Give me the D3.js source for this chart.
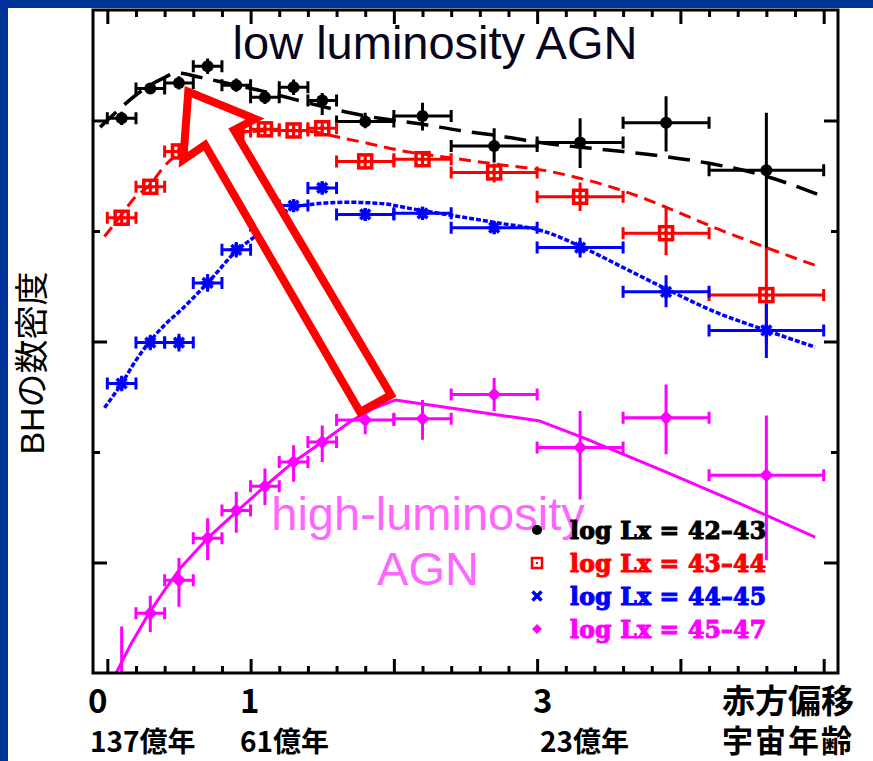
<!DOCTYPE html>
<html>
<head>
<meta charset="utf-8">
<script src="https://cdn.jsdelivr.net/npm/d3@7"></script>
<style>
  html, body { margin: 0; padding: 0; background: #fff; }
  svg { display: block; }
</style>
</head>
<body>
<svg id="chart" width="873" height="761"></svg>
<script>
// ---------- redshift bins ----------
const zMid = [0.1, 0.3, 0.5, 0.7, 0.9, 1.1, 1.3, 1.5, 1.8, 2.2, 2.7, 3.3, 3.9, 4.6];
const zLo  = [0.0, 0.2, 0.4, 0.6, 0.8, 1.0, 1.2, 1.4, 1.6, 2.0, 2.4, 3.0, 3.6, 4.2];
const zHi  = [0.2, 0.4, 0.6, 0.8, 1.0, 1.2, 1.4, 1.6, 2.0, 2.4, 3.0, 3.6, 4.2, 5.0];

// ---------- log10 space density (with asymmetric errors) ----------
const dens4243   = [-2.98, -2.71, -2.66, -2.51, -2.68, -2.79, -2.70, -2.82, -3.01, -2.96, -3.23, -3.20, -3.02, -3.45];
const dens4243Up = [0.06, 0.05, 0.06, 0.07, 0.06, 0.06, 0.07, 0.07, 0.08, 0.12, 0.16, 0.22, 0.24, 0.52];
const dens4243Dn = [0.06, 0.05, 0.06, 0.07, 0.06, 0.06, 0.07, 0.13, 0.06, 0.13, 0.15, 0.23, 0.26, 0.72];

const dens4344   = [-3.88, -3.60, -3.28, -3.16, -3.10, -3.08, -3.09, -3.07, -3.37, -3.35, -3.47, -3.69, -4.02, -4.58];
const dens4344Up = [0.06, 0.07, 0.07, 0.06, 0.05, 0.05, 0.05, 0.05, 0.06, 0.06, 0.08, 0.13, 0.23, 0.43];
const dens4344Dn = [0.06, 0.07, 0.07, 0.06, 0.05, 0.05, 0.05, 0.05, 0.06, 0.06, 0.09, 0.13, 0.20, 0.45];

const dens4445   = [-5.38, -5.01, -5.01, -4.47, -4.17, -3.95, -3.77, -3.61, -3.85, -3.84, -3.97, -4.15, -4.55, -4.90];
const dens4445Up = [0.07, 0.07, 0.08, 0.08, 0.07, 0.06, 0.06, 0.06, 0.05, 0.06, 0.05, 0.09, 0.15, 0.24];
const dens4445Dn = [0.07, 0.07, 0.08, 0.08, 0.07, 0.06, 0.06, 0.06, 0.05, 0.06, 0.05, 0.09, 0.14, 0.25];

const dens4547   = [-8.10, -7.46, -7.16, -6.78, -6.53, -6.31, -6.09, -5.91, -5.71, -5.70, -5.48, -5.96, -5.69, -6.21];
const dens4547Up = [0.52, 0.16, 0.20, 0.18, 0.17, 0.16, 0.15, 0.15, 0.09, 0.17, 0.15, 0.33, 0.30, 0.54];
const dens4547Dn = [0.20, 0.17, 0.24, 0.20, 0.20, 0.17, 0.18, 0.18, 0.13, 0.19, 0.15, 0.47, 0.33, 0.77];

// ---------- model curves ----------
const model4243Z = [-0.05, 0.09, 0.23, 0.37, 0.49, 0.65, 0.86, 1.07, 1.28, 1.49, 1.69, 1.90, 2.18, 2.46, 2.74, 3.02, 3.44, 3.86, 4.21, 4.56, 4.96];
const model4243V = [-3.06, -2.89, -2.74, -2.63, -2.57, -2.61, -2.67, -2.73, -2.80, -2.87, -2.93, -2.98, -3.03, -3.09, -3.14, -3.20, -3.26, -3.32, -3.39, -3.49, -3.67];

const model4344Z = [-0.02, 0.09, 0.19, 0.30, 0.40, 0.51, 0.65, 0.82, 1.00, 1.21, 1.42, 1.61, 1.83, 2.04, 2.41, 2.74, 3.04, 3.35, 3.63, 3.91, 4.22, 4.60, 4.96];
const model4344V = [-4.05, -3.87, -3.70, -3.58, -3.41, -3.29, -3.20, -3.13, -3.10, -3.09, -3.10, -3.15, -3.21, -3.27, -3.34, -3.40, -3.45, -3.54, -3.65, -3.79, -3.96, -4.15, -4.32];

const model4445Z = [-0.02, 0.02, 0.10, 0.19, 0.29, 0.40, 0.51, 0.70, 0.91, 1.03, 1.17, 1.29, 1.42, 1.67, 1.90, 2.13, 2.41, 2.74, 3.04, 3.32, 3.63, 3.91, 4.22, 4.60, 4.94];
const model4445V = [-5.60, -5.53, -5.38, -5.19, -5.01, -4.85, -4.72, -4.47, -4.17, -4.05, -3.90, -3.79, -3.76, -3.74, -3.75, -3.80, -3.86, -3.93, -4.00, -4.15, -4.35, -4.53, -4.72, -4.90, -5.05];

const model4547Z = [0.03, 0.16, 0.29, 0.40, 0.51, 0.70, 0.91, 1.10, 1.30, 1.51, 1.69, 1.85, 2.01, 2.60, 3.02, 3.32, 3.86, 4.42, 4.94];
const model4547V = [-8.08, -7.75, -7.46, -7.25, -7.05, -6.78, -6.53, -6.31, -6.09, -5.90, -5.73, -5.61, -5.53, -5.64, -5.72, -5.87, -6.16, -6.47, -6.77];

// ---------- legend / axis text ----------
const legendLabels = ["log Lx = 42\u201343", "log Lx = 43\u201344", "log Lx = 44\u201345", "log Lx = 45\u201347"];
const redshiftLabels = ["0", "1", "3", "赤方偏移"];
const ageLabels = ["137億年", "61億年", "23億年", "宇宙年齢"];
const yTitle = "BHの数密度";

// outline of the annotation arrow in (z, log density)
const arrowZ = [0.565, 1.031, 0.884, 1.980, 1.764, 0.682, 0.530];
const arrowV = [-2.740, -2.986, -3.086, -5.484, -5.638, -3.222, -3.355];

// ---------- layout ----------
const W = 873, H = 761;
const frame = { left: 93, top: 10, right: 838, bottom: 673 };
const BLUE_EDGE = "#003399";

const svg = d3.select("#chart");
const x = d3.scaleLinear().domain([-0.1, 5.1]).range([frame.left, frame.right]);
const y = d3.scaleLinear().domain([-8, -2]).range([frame.bottom, frame.top]);

svg.append("rect").attr("width", W).attr("height", H).attr("fill", "#fff");
svg.append("rect").attr("x", 0).attr("y", 0).attr("width", W).attr("height", 8).attr("fill", BLUE_EDGE);
svg.append("rect").attr("x", 0).attr("y", 0).attr("width", 8).attr("height", H).attr("fill", BLUE_EDGE);

svg.append("clipPath").attr("id", "plotClip")
  .append("rect")
  .attr("x", frame.left).attr("y", frame.top)
  .attr("width", frame.right - frame.left).attr("height", frame.bottom - frame.top);

// ---------- series ----------
const series = [
  { vals: dens4243, up: dens4243Up, dn: dens4243Dn, color: "#000000", marker: "circle",
    mz: model4243Z, mv: model4243V, dash: "22,11", width: 3.5, curve: d3.curveMonotoneX },
  { vals: dens4344, up: dens4344Up, dn: dens4344Dn, color: "#ff0000", marker: "square",
    mz: model4344Z, mv: model4344V, dash: "12,7", width: 3, curve: d3.curveMonotoneX },
  { vals: dens4445, up: dens4445Up, dn: dens4445Dn, color: "#0000ff", marker: "star",
    mz: model4445Z, mv: model4445V, dash: "5,2", width: 3.5, curve: d3.curveMonotoneX },
  { vals: dens4547, up: dens4547Up, dn: dens4547Dn, color: "#ff00ff", marker: "diamond",
    mz: model4547Z, mv: model4547V, dash: null, width: 3, curve: d3.curveLinear }
];

const plot = svg.append("g").attr("clip-path", "url(#plotClip)");

// model curves
series.forEach(s => {
  const line = d3.line().x(d => x(d[0])).y(d => y(d[1])).curve(s.curve);
  const pts = s.mz.map((z, i) => [z, s.mv[i]]);
  plot.append("path")
    .attr("d", line(pts))
    .attr("fill", "none")
    .attr("stroke", s.color)
    .attr("stroke-width", s.width)
    .attr("stroke-linejoin", "round")
    .attr("stroke-dasharray", s.dash);
});

function drawMarker(g, type, cx, cy, color, size) {
  const r = size;
  if (type === "circle") {
    g.append("circle").attr("cx", cx).attr("cy", cy).attr("r", r).attr("fill", color);
  } else if (type === "square") {
    g.append("rect").attr("x", cx - r).attr("y", cy - r).attr("width", 2 * r).attr("height", 2 * r)
      .attr("fill", "none").attr("stroke", color).attr("stroke-width", 3.5);
    g.append("rect").attr("x", cx - 2).attr("y", cy - 2).attr("width", 4).attr("height", 4).attr("fill", color);
  } else if (type === "star") {
    const p = d3.path();
    p.moveTo(cx - r, cy); p.lineTo(cx + r, cy);
    p.moveTo(cx, cy - r); p.lineTo(cx, cy + r);
    const d = r * 0.75;
    p.moveTo(cx - d, cy - d); p.lineTo(cx + d, cy + d);
    p.moveTo(cx - d, cy + d); p.lineTo(cx + d, cy - d);
    g.append("path").attr("d", p.toString()).attr("stroke", color).attr("stroke-width", 3.5).attr("fill", "none");
  } else if (type === "cross") {
    const p = d3.path();
    p.moveTo(cx - r, cy - r); p.lineTo(cx + r, cy + r);
    p.moveTo(cx - r, cy + r); p.lineTo(cx + r, cy - r);
    g.append("path").attr("d", p.toString()).attr("stroke", color).attr("stroke-width", 3.5).attr("fill", "none");
  } else if (type === "diamond") {
    g.append("path")
      .attr("d", `M${cx},${cy - r}L${cx + r},${cy}L${cx},${cy + r}L${cx - r},${cy}Z`)
      .attr("fill", color);
  }
}

// error bars + markers
const CAP = 6;
series.forEach(s => {
  const g = plot.append("g");
  s.vals.forEach((v, i) => {
    const cy = y(v), cx = x(zMid[i]);
    const x0 = x(zLo[i]), x1 = x(zHi[i]);
    const p = d3.path();
    p.moveTo(x0, cy); p.lineTo(x1, cy);
    p.moveTo(x0, cy - CAP); p.lineTo(x0, cy + CAP);
    p.moveTo(x1, cy - CAP); p.lineTo(x1, cy + CAP);
    p.moveTo(cx, y(v + s.up[i])); p.lineTo(cx, y(v - s.dn[i]));
    g.append("path").attr("d", p.toString()).attr("stroke", s.color).attr("stroke-width", 3).attr("fill", "none");
    const size = s.marker === "circle" ? 6 : (s.marker === "diamond" ? 7 : 6.5);
    drawMarker(g, s.marker, cx, cy, s.color, size);
  });
});

// annotation arrow
const arrowPts = arrowZ.map((z, i) => [x(z), y(arrowV[i])]);
svg.append("path")
  .attr("d", "M" + arrowPts.map(p => p.join(",")).join("L") + "Z")
  .attr("fill", "#fff")
  .attr("stroke", "#ff0000")
  .attr("stroke-width", 8)
  .attr("stroke-linejoin", "miter")
  .attr("stroke-miterlimit", 10);

// ---------- frame and ticks ----------
svg.append("rect")
  .attr("x", frame.left).attr("y", frame.top)
  .attr("width", frame.right - frame.left).attr("height", frame.bottom - frame.top)
  .attr("fill", "none").attr("stroke", "#000").attr("stroke-width", 3);

const zMajor = d3.range(0, 5.001, 1);
const zMinor = d3.range(0, 5.001, 0.2).filter(v => Math.abs(v - Math.round(v)) > 1e-6);
const vMajor = [-3, -5, -7];
const vMinor = [-4, -6];

function ticks(axisFn, scale, values, len, tx, ty) {
  svg.append("g")
    .attr("transform", `translate(${tx},${ty})`)
    .call(axisFn(scale).tickValues(values).tickSize(-len).tickFormat(""))
    .call(g => {
      g.select(".domain").remove();
      g.selectAll("line").attr("stroke", "#000").attr("stroke-width", 3);
    });
}
ticks(d3.axisBottom, x, zMajor, 14, 0, frame.bottom);
ticks(d3.axisBottom, x, zMinor, 7, 0, frame.bottom);
ticks(d3.axisTop, x, zMajor, 14, 0, frame.top);
ticks(d3.axisTop, x, zMinor, 7, 0, frame.top);
ticks(d3.axisLeft, y, vMajor, 14, frame.left, 0);
ticks(d3.axisLeft, y, vMinor, 7, frame.left, 0);
ticks(d3.axisRight, y, vMajor, 14, frame.right, 0);
ticks(d3.axisRight, y, vMinor, 7, frame.right, 0);

// ---------- annotations ----------
svg.append("text")
  .attr("x", 435).attr("y", 59)
  .attr("text-anchor", "middle")
  .attr("font-family", "Liberation Sans, Arial, sans-serif")
  .attr("font-size", 47)
  .attr("fill", "#06061e")
  .text("low luminosity AGN");

const hl = svg.append("text")
  .attr("text-anchor", "middle")
  .attr("font-family", "Liberation Sans, Arial, sans-serif")
  .attr("font-size", 47)
  .attr("fill", "#ff66ff");
hl.append("tspan").attr("x", 428).attr("y", 530).text("high-luminosity");
hl.append("tspan").attr("x", 428).attr("y", 585).text("AGN");

// ---------- legend ----------
const legendColors = series.map(s => s.color);
const legendMarkers = ["circle", "square", "cross", "diamond"];
const legendRowY = [530, 563, 596, 629];
legendLabels.forEach((lab, i) => {
  const g = svg.append("g");
  const cy = legendRowY[i];
  if (legendMarkers[i] === "square") {
    g.append("rect").attr("x", 537 - 5).attr("y", cy - 5).attr("width", 10).attr("height", 10)
      .attr("fill", "none").attr("stroke", legendColors[i]).attr("stroke-width", 2.5);
    g.append("rect").attr("x", 536).attr("y", cy - 1).attr("width", 2).attr("height", 2).attr("fill", legendColors[i]);
  } else {
    drawMarker(g, legendMarkers[i], 537, cy, legendColors[i], legendMarkers[i] === "cross" ? 4.5 : 5);
  }
  g.append("text")
    .attr("x", 570).attr("y", cy + 9)
    .attr("font-family", "DejaVu Serif, serif")
    .attr("font-weight", "bold")
    .attr("font-size", 23.5)
    .attr("fill", legendColors[i])
    .attr("stroke", legendColors[i])
    .attr("stroke-width", 1.1)
    .attr("textLength", 196)
    .text(lab);
});

// ---------- axis captions ----------
const labelStartX = [88, 240, 533, 722];
const ageStartX = [90, 240, 540, 722];
redshiftLabels.forEach((t, i) => {
  svg.append("text")
    .attr("x", labelStartX[i]).attr("y", 713)
    .attr("font-family", "Noto Sans CJK JP, sans-serif")
    .attr("font-weight", "bold")
    .attr("font-size", 33)
    .attr("fill", "#000")
    .text(t);
});
ageLabels.forEach((t, i) => {
  svg.append("text")
    .attr("x", ageStartX[i]).attr("y", 752)
    .attr("font-family", "Noto Sans CJK JP, sans-serif")
    .attr("font-weight", "bold")
    .attr("font-size", i === 3 ? 31 : 28)
    .attr("letter-spacing", i === 3 ? 2 : 0)
    .attr("fill", "#000")
    .text(t);
});

svg.append("text")
  .attr("transform", "translate(44,363) rotate(-90)")
  .attr("text-anchor", "middle")
  .attr("font-family", "Liberation Sans, Noto Sans CJK JP, sans-serif")
  .attr("font-size", 34)
  .attr("fill", "#000")
  .text(yTitle);
</script>
</body>
</html>
